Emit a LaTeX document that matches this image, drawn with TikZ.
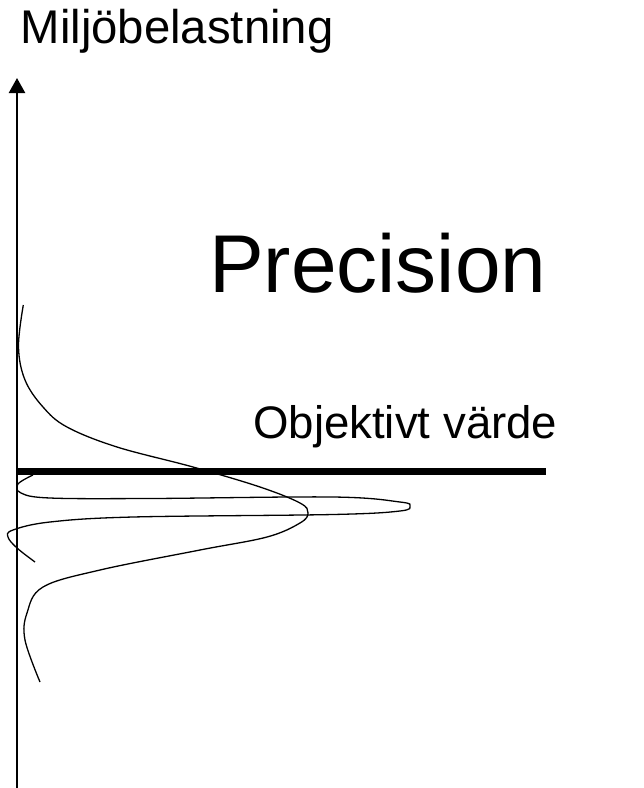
\documentclass[tikz,border=0pt]{standalone}
\usepackage{fontspec}
\setmainfont{Liberation Sans}
\usetikzlibrary{arrows.meta}
\begin{document}
\begin{tikzpicture}[x=1pt,y=-1pt,
  lbl/.style={inner sep=0pt,anchor=base west,text=black},
  curve/.style={line width=1.3pt,black},
  axisline/.style={line width=2.4pt,black},
  target/.style={line width=6.5pt,black}]
\useasboundingbox[fill=white] (0,0) rectangle (644,788);
% texts
\node[lbl,font=\fontsize{47.3}{52}\selectfont] (ylab) at (20.5,43) {Miljöbelastning};
\node[lbl,font=\fontsize{82}{90}\selectfont] (prec) at (209,292) {Precision};
\node[lbl,font=\fontsize{45.6}{50}\selectfont] (obj) at (253,438) {Objektivt värde};
% axis
\coordinate (axbot) at (17,788);
\coordinate (axtop) at (17,78);
\draw[axisline,-{Triangle[length=15pt,width=16pt]}] (axbot) -- (axtop);
% objective line
\coordinate (tl) at (17,471.5);
\coordinate (tr) at (546,471.5);
\draw[target] (tl) -- (tr);
% wide distribution
\draw[curve] plot[smooth,tension=0.6] coordinates {(23.3,305) (18.5,346.7) (25,380) (43,407) (67,427) (117,447) (193,467) (260,487) (300,503) (308,513) (300,523) (267,537) (200,550) (100,570) (43,587) (27,613) (25,640) (40,682)};
% narrow distribution
\draw[curve] plot[smooth,tension=0.6] coordinates {(33,475) (18,484) (21,493) (50,498) (150,498.5) (333,497) (400,502) (410,506) (400,511) (333,514.5) (133,517) (50,522) (13,530) (8,537) (17,548) (35,562)};
\end{tikzpicture}
\end{document}
